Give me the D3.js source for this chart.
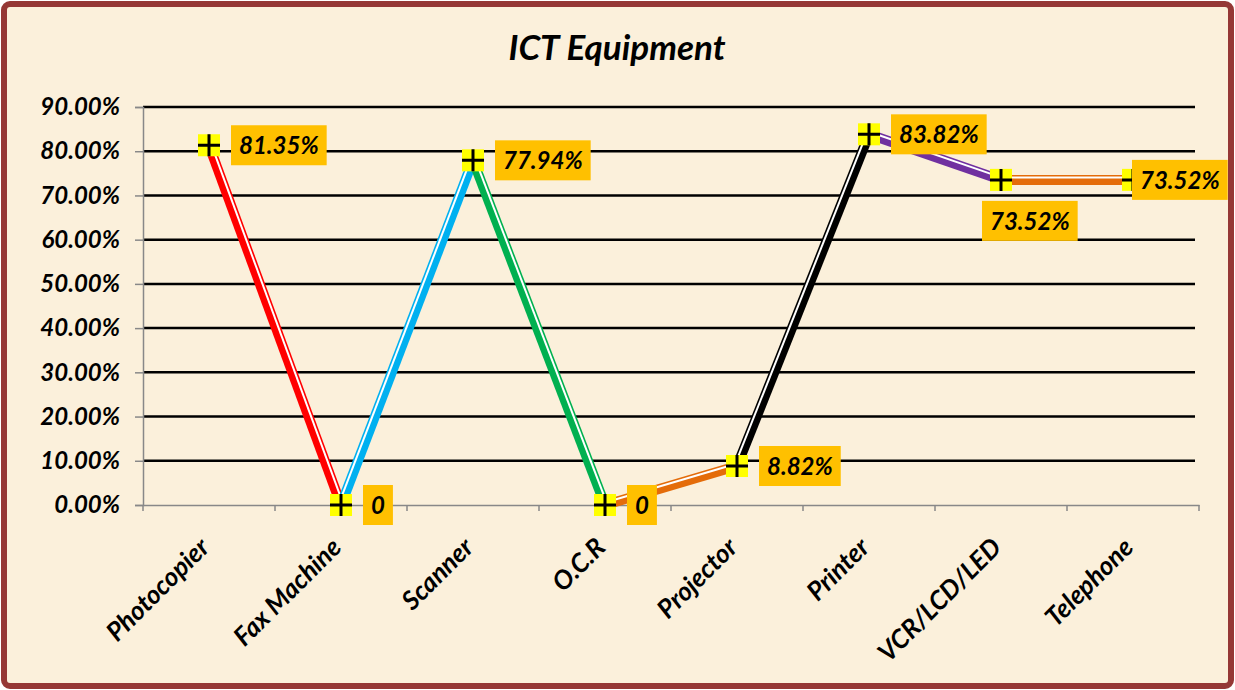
<!DOCTYPE html>
<html lang="en">
<head>
<meta charset="utf-8">
<title>ICT Equipment</title>
<script src="https://cdn.jsdelivr.net/npm/d3@7"></script>
<style>
  body { margin: 0; background: #fff; }
  text { font-family: Lato, "Noto Sans", sans-serif; font-weight: bold; font-style: italic; }
</style>
</head>
<body>
<script>
// chart data
var categories = ["Photocopier", "Fax Machine", "Scanner", "O.C.R", "Projector", "Printer", "VCR/LCD/LED", "Telephone"];
var values = [81.35, 0, 77.94, 0, 8.82, 83.82, 73.52, 73.52];
var valueLabels = ["81.35%", "0", "77.94%", "0", "8.82%", "83.82%", "73.52%", "73.52%"];
var yTicks = [0, 10, 20, 30, 40, 50, 60, 70, 80, 90];
var segColors = ["#ff0000", "#00b0f0", "#00b050", "#e46c0a", "#000000", "#7030a0", "#e46c0a"];

var w = 1235, h = 690;
var pLeft = 143, pRight = 1199, pTop = 107, pBottom = 505;

var svg = d3.select("body").append("svg")
    .attr("width", w)
    .attr("height", h);

// background + frame
svg.append("rect")
    .attr("x", 4).attr("y", 4)
    .attr("width", w - 8).attr("height", h - 8)
    .attr("rx", 6)
    .attr("fill", "#fbf0db")
    .attr("stroke", "#953735")
    .attr("stroke-width", 6);

var xScale = d3.scaleBand()
    .domain(categories)
    .range([pLeft, pRight]);

var yScale = d3.scaleLinear()
    .domain([0, 90])
    .range([pBottom, pTop]);

function cx(c) { return xScale(c) + xScale.bandwidth() / 2; }

// title
svg.append("text")
    .attr("x", 617).attr("y", 60)
    .attr("text-anchor", "middle")
    .style("font-size", "35px")
    .text("ICT Equipment");

// gridlines
svg.append("g")
    .selectAll("line")
    .data(yTicks.filter(function(d) { return d > 0; }))
    .enter().append("line")
    .attr("x1", pLeft).attr("x2", pRight - 4)
    .attr("y1", function(d) { return yScale(d); })
    .attr("y2", function(d) { return yScale(d); })
    .attr("stroke", "#000")
    .attr("stroke-width", 2.5);

// y axis
var yAxis = d3.axisLeft(yScale)
    .tickValues(yTicks)
    .tickSize(8)
    .tickPadding(15)
    .tickFormat(function(d) { return d.toFixed(2) + "%"; });
var gy = svg.append("g")
    .attr("transform", "translate(" + pLeft + ",0)")
    .call(yAxis);
gy.select(".domain").attr("stroke", "#888").attr("stroke-width", 1.5);
gy.selectAll(".tick line").attr("stroke", "#888").attr("stroke-width", 1.5);
gy.selectAll(".tick text")
    .attr("fill", "#000")
    .style("font-size", "24px")
    .style("font-family", "Lato, sans-serif");

// x axis
var xAxis = d3.axisBottom(xScale).tickSize(0).tickFormat("");
var gx = svg.append("g")
    .attr("transform", "translate(0," + pBottom + ")")
    .call(xAxis);
gx.select(".domain").attr("stroke", "#888").attr("stroke-width", 1.5);
// boundary ticks
gx.selectAll(".bound")
    .data(categories.concat([null]))
    .enter().append("line")
    .attr("x1", function(d, i) { return pLeft + i * xScale.step(); })
    .attr("x2", function(d, i) { return pLeft + i * xScale.step(); })
    .attr("y1", 0).attr("y2", 6)
    .attr("stroke", "#888").attr("stroke-width", 1.5);

// category labels
svg.append("g")
    .selectAll("text")
    .data(categories)
    .enter().append("text")
    .attr("text-anchor", "end")
    .attr("transform", function(d) {
        return "translate(" + (cx(d) + 2) + "," + (pBottom + 44) + ") rotate(-45)";
    })
    .style("font-size", "26px")
    .text(function(d) { return d; });

// line segments with a thick/thin double stroke
var segs = [];
for (var i = 0; i < categories.length - 1; i++) {
    segs.push({
        x1: cx(categories[i]), y1: yScale(values[i]),
        x2: cx(categories[i + 1]), y2: yScale(values[i + 1]),
        color: segColors[i]
    });
}
var gl = svg.append("g");
segs.forEach(function(s) {
    var dx = s.x2 - s.x1, dy = s.y2 - s.y1;
    var len = Math.sqrt(dx * dx + dy * dy);
    var nx = -dy / len, ny = dx / len;
    if (ny > 0 || (ny === 0 && nx > 0)) { nx = -nx; ny = -ny; }
    gl.append("line")
        .attr("x1", s.x1).attr("y1", s.y1)
        .attr("x2", s.x2).attr("y2", s.y2)
        .attr("stroke", s.color)
        .attr("stroke-width", 10);
    var o = 2.4;
    gl.append("line")
        .attr("x1", s.x1 + nx * o).attr("y1", s.y1 + ny * o)
        .attr("x2", s.x2 + nx * o).attr("y2", s.y2 + ny * o)
        .attr("stroke", "#fff")
        .attr("stroke-width", 2);
});

// markers
var markers = svg.append("g")
    .selectAll("g")
    .data(values)
    .enter().append("g")
    .attr("transform", function(d, i) {
        return "translate(" + cx(categories[i]) + "," + yScale(d) + ")";
    });
markers.append("rect")
    .attr("x", -11).attr("y", -11)
    .attr("width", 22).attr("height", 22)
    .attr("fill", "#ffff00");
markers.append("path")
    .attr("d", "M-11,0H11M0,-11V11")
    .attr("stroke", "#000")
    .attr("stroke-width", 3);

// data labels
var labels = svg.append("g")
    .selectAll("g")
    .data(values)
    .enter().append("g")
    .attr("transform", function(d, i) {
        var x = cx(categories[i]), y = yScale(d);
        if (i === 6) return "translate(" + (x - 19) + "," + (y + 21) + ")";
        if (i === 7) return "translate(" + (x - 1) + "," + (y - 20) + ")";
        return "translate(" + (x + 22) + "," + (y - 20) + ")";
    });
labels.each(function(d, i) {
    var g = d3.select(this);
    var t = g.append("text")
        .attr("x", 8).attr("y", 29)
        .style("font-size", "24px")
        .text(valueLabels[i]);
    var bw = t.node().getComputedTextLength() + 16;
    g.insert("rect", "text")
        .attr("width", bw).attr("height", 40)
        .attr("fill", "#ffc000");
});
</script>
</body>
</html>
